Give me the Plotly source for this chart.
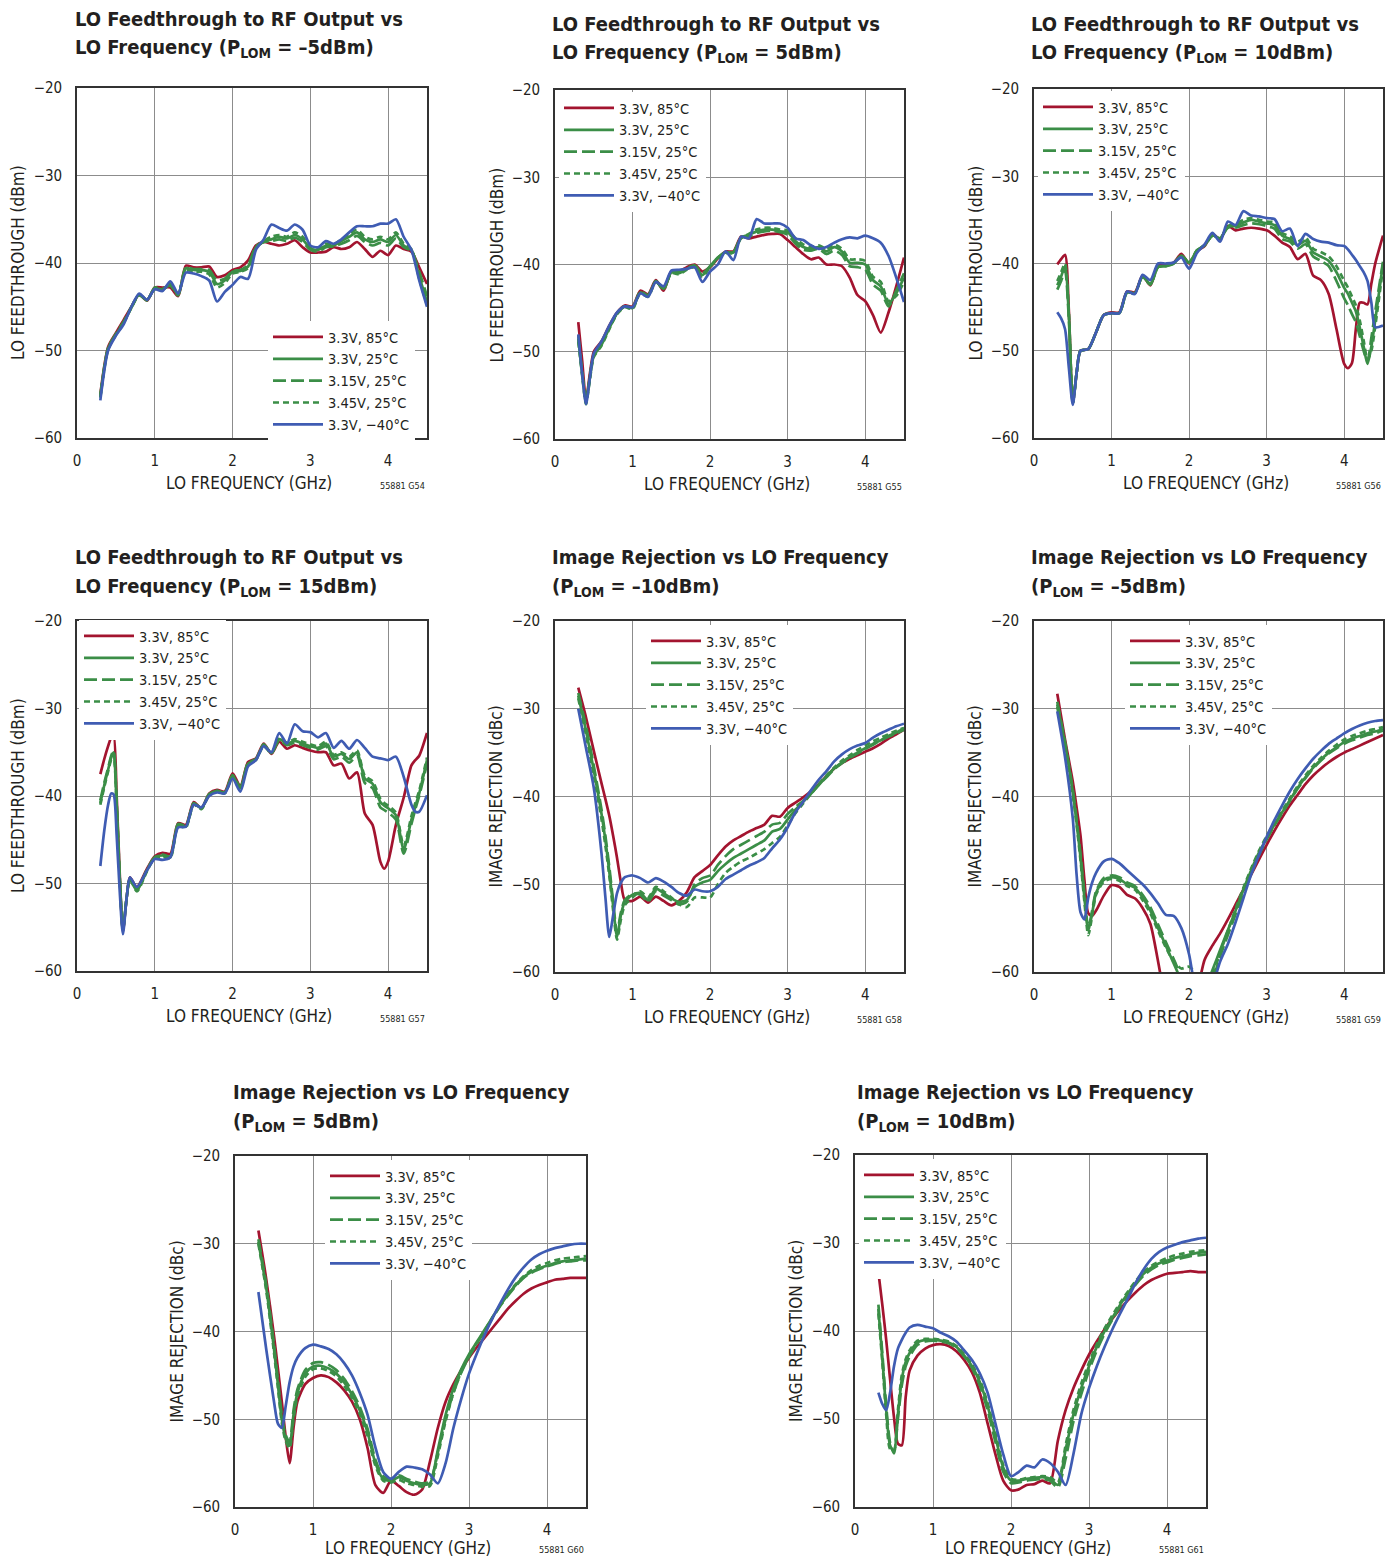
import plotly.graph_objects as go

W, H = 1397, 1560
FONT = "Liberation Sans Narrow, DejaVu Sans Condensed, Roboto Condensed, Arial Narrow, sans-serif"
TXT = "#231f20"

SERIES_NAMES = ["3.3V, 85°C", "3.3V, 25°C", "3.15V, 25°C", "3.45V, 25°C", "3.3V, −40°C"]
SERIES_COLORS = ["#a3142f", "#3b8e47", "#3b8e47", "#3b8e47", "#3f5cb3"]
SERIES_DASH = ["solid", "solid", "13px,5px", "6px,4px", "solid"]

X_TICKS = [0, 1, 2, 3, 4]
Y_TICKS = [-60, -50, -40, -30, -20]

# ---------------- G54: LO feedthrough, PLOM = -5dBm ----------------
G54_FREQ = [0.3,0.4,0.5,0.6,0.7,0.8,0.9,1.0,1.1,1.2,1.3,1.4,1.5,1.6,1.7,1.8,1.9,2.0,2.1,2.2,2.3,2.4,2.5,2.6,2.7,2.8,2.9,3.0,3.1,3.2,3.3,3.4,3.5,3.6,3.7,3.8,3.9,4.0,4.1,4.2,4.3,4.4,4.5]
G54_85C = [-55.0,-49.6,-48.0,-46.5,-45.0,-43.6,-44.3,-42.8,-42.8,-42.8,-43.8,-40.3,-40.5,-40.5,-40.4,-41.6,-41.4,-40.8,-40.5,-39.7,-38.0,-37.6,-37.8,-38.0,-37.8,-37.4,-38.2,-38.8,-38.8,-38.7,-38.2,-38.4,-38.2,-37.6,-38.4,-39.3,-38.6,-39.1,-38.0,-38.4,-38.7,-40.5,-42.4]
G54_25C = [-55.3,-49.8,-48.2,-46.8,-45.1,-43.6,-44.2,-42.9,-43.0,-42.5,-43.6,-40.6,-40.8,-40.8,-41.0,-42.4,-42.0,-41.0,-40.9,-40.4,-38.2,-37.6,-37.3,-37.0,-37.2,-36.8,-37.3,-38.3,-38.5,-38.0,-38.0,-37.5,-37.0,-36.5,-37.3,-37.6,-37.3,-37.6,-36.8,-38.0,-38.5,-41.5,-44.5]
G54_315V = [-55.2,-49.7,-48.1,-46.7,-45.0,-43.6,-44.3,-42.8,-42.9,-42.6,-43.7,-40.5,-40.7,-40.7,-40.8,-42.0,-41.8,-40.9,-40.8,-40.2,-38.1,-37.6,-37.5,-37.3,-37.5,-37.1,-37.6,-38.5,-38.7,-38.2,-38.1,-37.8,-37.4,-36.9,-37.6,-38.0,-37.7,-38.0,-37.2,-38.2,-38.6,-41.0,-43.8]
G54_345V = [-55.4,-49.9,-48.2,-46.9,-45.1,-43.7,-44.2,-43.0,-43.1,-42.4,-43.5,-40.8,-41.0,-41.0,-41.3,-42.8,-42.3,-41.2,-41.0,-40.6,-38.3,-37.5,-37.0,-36.8,-37.0,-36.5,-37.0,-38.1,-38.3,-37.8,-37.9,-37.3,-36.7,-36.2,-37.0,-37.3,-37.0,-37.3,-36.5,-37.8,-38.4,-41.8,-44.8]
G54_M40C = [-55.7,-50.0,-48.3,-47.0,-45.0,-43.5,-44.2,-43.0,-43.2,-42.1,-43.5,-41.1,-41.2,-41.5,-42.0,-44.4,-43.3,-42.5,-41.6,-41.8,-38.5,-37.3,-35.6,-36.0,-36.3,-35.6,-36.2,-38.0,-38.2,-37.5,-37.8,-37.3,-36.5,-35.8,-35.8,-35.8,-35.5,-35.5,-35.0,-37.0,-38.5,-42.0,-45.0]

# ---------------- G55: LO feedthrough, PLOM = 5dBm ----------------
G55_FREQ = [0.3,0.35,0.4,0.45,0.5,0.6,0.7,0.8,0.9,1.0,1.1,1.2,1.3,1.4,1.5,1.6,1.7,1.8,1.9,2.0,2.1,2.2,2.3,2.4,2.5,2.6,2.7,2.8,2.9,3.0,3.1,3.2,3.3,3.4,3.5,3.6,3.7,3.8,3.9,4.0,4.1,4.2,4.3,4.4,4.5]
G55_85C = [-46.6,-51.0,-55.5,-52.5,-50.0,-48.8,-47.0,-45.5,-44.7,-44.8,-43.0,-43.4,-41.8,-43.0,-40.8,-40.8,-40.3,-40.0,-40.8,-40.3,-39.3,-38.5,-38.5,-36.8,-37.0,-36.8,-36.6,-36.5,-36.5,-37.2,-38.0,-38.8,-39.4,-39.2,-40.0,-40.0,-40.2,-41.5,-43.5,-44.2,-45.8,-47.8,-45.5,-42.5,-39.2]
G55_25C = [-48.5,-52.5,-55.8,-53.0,-50.5,-49.2,-47.3,-45.6,-44.8,-45.0,-43.2,-43.6,-41.9,-42.8,-40.9,-41.0,-40.5,-40.2,-41.2,-40.2,-39.2,-38.6,-38.6,-36.9,-36.6,-36.2,-36.0,-36.0,-36.2,-36.3,-37.3,-38.0,-38.2,-38.0,-38.5,-38.0,-38.5,-39.8,-39.8,-40.0,-41.8,-42.5,-44.5,-43.3,-41.5]
G55_315V = [-48.2,-52.3,-55.6,-52.8,-50.4,-49.0,-47.2,-45.6,-44.8,-44.9,-43.1,-43.5,-41.9,-42.9,-40.9,-40.9,-40.4,-40.1,-41.0,-40.2,-39.2,-38.6,-38.6,-36.9,-36.8,-36.4,-36.2,-36.1,-36.3,-36.6,-37.6,-38.3,-38.4,-38.2,-38.8,-38.4,-38.9,-40.2,-40.3,-40.6,-42.3,-43.0,-44.8,-43.0,-41.0]
G55_345V = [-48.8,-52.7,-56.0,-53.2,-50.6,-49.3,-47.4,-45.7,-44.9,-45.1,-43.3,-43.7,-42.0,-42.7,-41.0,-41.1,-40.6,-40.3,-41.4,-40.3,-39.3,-38.7,-38.7,-37.0,-36.5,-36.0,-35.8,-35.8,-36.0,-36.1,-37.0,-37.7,-38.0,-37.8,-38.2,-37.7,-38.2,-39.4,-39.4,-39.6,-41.4,-42.0,-44.2,-43.6,-42.0]
G55_M40C = [-48.0,-52.5,-56.0,-53.0,-50.2,-48.8,-47.0,-45.5,-44.8,-44.9,-43.3,-43.7,-42.0,-42.5,-40.7,-40.6,-40.5,-40.3,-42.0,-40.8,-40.0,-38.5,-39.5,-36.8,-37.0,-34.8,-35.3,-35.3,-35.3,-35.8,-37.0,-37.2,-37.8,-38.2,-38.0,-37.5,-37.1,-36.9,-37.0,-36.7,-37.0,-37.5,-39.0,-41.5,-44.3]

# ---------------- G56: LO feedthrough, PLOM = 10dBm ----------------
G56_FREQ = [0.3,0.35,0.4,0.45,0.5,0.55,0.6,0.7,0.8,0.9,1.0,1.1,1.2,1.3,1.4,1.5,1.6,1.7,1.8,1.9,2.0,2.1,2.2,2.3,2.4,2.5,2.6,2.7,2.8,2.9,3.0,3.1,3.2,3.3,3.4,3.5,3.6,3.7,3.8,3.9,4.0,4.05,4.1,4.15,4.2,4.25,4.3,4.35,4.4,4.5]
G56_85C = [-40.1,-39.5,-39.0,-45.5,-56.0,-52.5,-50.0,-49.8,-47.9,-45.9,-45.6,-45.6,-43.2,-43.3,-41.4,-42.5,-40.2,-40.1,-39.9,-38.9,-40.0,-38.6,-38.0,-36.6,-37.2,-35.7,-36.2,-36.0,-35.9,-36.0,-36.2,-36.8,-37.6,-38.1,-39.5,-38.9,-41.4,-41.9,-43.5,-47.5,-51.5,-52.0,-51.4,-47.5,-44.5,-44.5,-44.7,-42.3,-40.0,-36.8]
G56_25C = [-42.5,-41.5,-40.3,-46.0,-56.0,-52.5,-50.0,-49.8,-47.9,-45.9,-45.7,-45.7,-43.3,-43.4,-41.5,-42.4,-40.4,-40.3,-40.0,-39.1,-39.9,-38.5,-37.9,-36.8,-37.1,-35.8,-35.7,-35.3,-35.0,-35.2,-35.4,-35.6,-36.8,-37.2,-37.9,-37.4,-38.7,-39.2,-39.7,-41.0,-42.8,-43.5,-44.5,-45.5,-47.3,-49.5,-51.5,-49.5,-46.5,-40.0]
G56_315V = [-43.0,-42.0,-40.8,-46.5,-56.0,-52.5,-50.0,-49.8,-47.9,-45.9,-45.7,-45.7,-43.3,-43.4,-41.5,-42.4,-40.4,-40.3,-40.0,-39.1,-39.9,-38.5,-37.9,-36.8,-37.1,-35.9,-35.9,-35.6,-35.4,-35.5,-35.7,-36.0,-37.2,-37.5,-38.3,-37.8,-39.2,-39.7,-40.3,-42.0,-44.0,-44.8,-45.8,-46.7,-48.3,-50.0,-51.2,-48.5,-45.5,-39.8]
G56_345V = [-42.0,-41.0,-40.0,-45.8,-56.0,-52.5,-50.0,-49.8,-47.9,-45.9,-45.7,-45.7,-43.3,-43.4,-41.5,-42.4,-40.4,-40.3,-40.0,-39.1,-39.9,-38.5,-37.9,-36.8,-37.1,-35.7,-35.5,-35.0,-34.8,-35.0,-35.2,-35.3,-36.5,-36.9,-37.5,-37.0,-38.3,-38.7,-39.2,-40.3,-42.0,-42.8,-43.8,-44.8,-46.5,-48.8,-51.0,-50.0,-47.2,-40.5]
G56_M40C = [-45.6,-46.3,-47.5,-52.0,-56.2,-52.5,-50.0,-49.8,-47.9,-45.9,-45.7,-45.7,-43.2,-43.5,-41.3,-41.9,-40.0,-40.0,-39.9,-39.3,-40.6,-38.8,-37.8,-36.5,-37.5,-35.2,-35.6,-34.0,-34.5,-34.6,-34.8,-34.9,-36.3,-36.0,-38.0,-36.6,-37.2,-37.5,-37.6,-37.9,-38.0,-38.4,-39.0,-39.6,-40.3,-41.0,-42.0,-44.5,-47.3,-47.1]

# ---------------- G57: LO feedthrough, PLOM = 15dBm ----------------
G57_FREQ = [0.3,0.35,0.4,0.44,0.47,0.51,0.55,0.59,0.64,0.68,0.77,0.9,1.0,1.1,1.2,1.3,1.4,1.5,1.6,1.7,1.8,1.9,2.0,2.1,2.2,2.3,2.4,2.5,2.6,2.7,2.8,2.9,3.0,3.1,3.2,3.3,3.4,3.5,3.6,3.7,3.8,3.9,3.95,4.0,4.1,4.2,4.3,4.35,4.4,4.5]
G57_85C = [-37.5,-35.8,-34.3,-33.3,-33.0,-40.0,-49.0,-55.5,-51.5,-49.3,-50.4,-48.3,-46.9,-46.5,-46.6,-43.1,-43.3,-40.7,-41.4,-39.7,-39.3,-39.5,-37.4,-38.9,-36.1,-35.7,-34.0,-35.2,-33.8,-34.6,-34.2,-34.5,-34.8,-35.0,-35.0,-36.5,-36.3,-38.0,-37.3,-42.0,-43.3,-47.5,-48.3,-47.5,-43.3,-40.2,-36.5,-35.9,-35.4,-32.8]
G57_25C = [-40.8,-38.8,-37.0,-35.6,-35.0,-41.0,-49.5,-55.3,-51.5,-49.5,-50.8,-48.5,-47.0,-46.8,-47.0,-43.3,-43.5,-40.9,-41.4,-39.8,-39.4,-39.6,-37.7,-39.1,-36.3,-35.8,-34.2,-35.1,-33.5,-34.0,-33.7,-34.0,-34.3,-34.5,-34.0,-35.5,-35.2,-35.8,-35.0,-38.0,-38.6,-40.7,-41.1,-41.4,-42.2,-46.1,-42.7,-41.2,-39.7,-35.9]
G57_315V = [-40.5,-38.5,-36.8,-35.4,-34.8,-40.8,-49.3,-55.4,-51.5,-49.5,-50.7,-48.4,-47.0,-46.7,-46.9,-43.2,-43.4,-40.8,-41.4,-39.8,-39.4,-39.6,-37.6,-39.0,-36.2,-35.8,-34.1,-35.1,-33.6,-34.2,-33.9,-34.2,-34.5,-34.7,-34.3,-35.8,-35.5,-36.2,-35.4,-38.5,-39.1,-41.3,-41.6,-41.9,-42.7,-46.6,-43.2,-41.5,-40.0,-36.3]
G57_345V = [-41.0,-39.0,-37.2,-35.8,-35.2,-41.2,-49.7,-55.2,-51.5,-49.5,-50.9,-48.6,-47.1,-46.9,-47.1,-43.4,-43.6,-41.0,-41.5,-39.9,-39.5,-39.7,-37.8,-39.2,-36.4,-35.9,-34.3,-35.1,-33.4,-33.9,-33.5,-33.8,-34.1,-34.3,-33.8,-35.3,-35.0,-35.5,-34.8,-37.7,-38.3,-40.3,-40.8,-41.1,-41.9,-45.7,-42.3,-40.8,-39.4,-35.6]
G57_M40C = [-48.0,-44.0,-41.0,-39.7,-39.8,-44.5,-51.0,-55.8,-51.5,-49.3,-50.4,-48.5,-47.2,-47.3,-47.0,-43.6,-43.5,-41.0,-41.3,-40.0,-39.6,-39.7,-38.0,-39.5,-36.6,-35.9,-34.3,-35.0,-32.8,-34.0,-31.8,-32.6,-32.7,-33.3,-32.8,-34.5,-33.7,-34.6,-33.6,-34.5,-35.5,-35.7,-35.8,-35.9,-35.5,-37.8,-41.0,-41.8,-41.8,-39.9]

# ---------------- G58: image rejection, PLOM = -10dBm ----------------
G58_FREQ = [0.3,0.4,0.5,0.6,0.65,0.7,0.75,0.8,0.85,0.9,1.0,1.1,1.2,1.3,1.4,1.5,1.6,1.7,1.8,1.9,2.0,2.1,2.2,2.3,2.4,2.5,2.6,2.7,2.8,2.9,3.0,3.1,3.2,3.3,3.4,3.5,3.6,3.7,3.8,3.9,4.0,4.1,4.2,4.3,4.4,4.5]
G58_85C = [-27.6,-31.0,-34.8,-38.5,-40.3,-42.2,-44.5,-47.0,-49.8,-51.8,-51.9,-51.4,-52.1,-51.4,-51.9,-52.4,-51.9,-50.9,-49.2,-48.5,-47.8,-46.7,-45.7,-45.0,-44.5,-44.0,-43.6,-43.2,-42.2,-42.3,-41.3,-40.7,-40.1,-39.4,-38.6,-37.7,-36.8,-36.2,-35.7,-35.3,-34.9,-34.5,-34.0,-33.4,-32.9,-32.4]
G58_25C = [-28.5,-32.5,-37.0,-42.0,-45.0,-48.5,-52.5,-56.0,-53.5,-52.0,-51.2,-51.0,-51.8,-50.5,-51.0,-51.6,-52.0,-51.8,-50.3,-49.8,-49.5,-48.5,-47.7,-47.0,-46.5,-46.0,-45.5,-45.0,-44.0,-43.7,-42.6,-41.5,-40.6,-39.7,-38.7,-37.7,-36.8,-36.1,-35.5,-35.0,-34.5,-34.0,-33.6,-33.1,-32.7,-32.2]
G58_315V = [-28.2,-32.0,-36.5,-41.5,-44.5,-48.0,-52.0,-55.5,-53.2,-51.8,-51.1,-51.2,-52.0,-50.8,-51.3,-51.8,-52.3,-52.0,-50.0,-49.3,-49.0,-47.8,-46.8,-46.0,-45.5,-45.0,-44.5,-44.0,-43.2,-43.0,-42.0,-41.2,-40.5,-39.6,-38.7,-37.8,-36.9,-36.2,-35.6,-35.1,-34.6,-34.1,-33.6,-33.2,-32.8,-32.4]
G58_345V = [-28.8,-33.0,-37.6,-42.6,-45.6,-49.0,-53.0,-56.3,-54.0,-52.4,-51.5,-50.8,-51.5,-50.3,-50.8,-51.5,-52.3,-52.6,-51.5,-51.5,-51.5,-50.0,-48.7,-48.0,-47.4,-47.0,-46.5,-46.0,-45.3,-44.6,-43.3,-41.9,-40.8,-39.7,-38.6,-37.6,-36.7,-35.9,-35.3,-34.7,-34.2,-33.7,-33.3,-32.9,-32.5,-32.2]
G58_M40C = [-30.0,-34.5,-39.0,-46.5,-51.5,-56.0,-53.5,-51.0,-49.8,-49.2,-49.0,-49.3,-49.8,-49.3,-49.7,-50.3,-51.0,-51.3,-50.6,-50.8,-50.8,-50.3,-49.4,-48.9,-48.4,-47.9,-47.5,-47.0,-45.9,-44.9,-43.5,-41.8,-40.6,-39.3,-38.1,-37.1,-36.0,-35.2,-34.6,-34.2,-33.9,-33.3,-32.8,-32.4,-32.0,-31.7]

# ---------------- G59: image rejection, PLOM = -5dBm ----------------
G59_FREQ = [0.3,0.4,0.5,0.55,0.6,0.65,0.7,0.75,0.8,0.9,1.0,1.1,1.2,1.3,1.4,1.5,1.6,1.7,1.8,1.9,2.0,2.1,2.2,2.3,2.4,2.5,2.6,2.7,2.8,2.9,3.0,3.1,3.2,3.3,3.4,3.5,3.6,3.7,3.8,3.9,4.0,4.1,4.2,4.3,4.4,4.5]
G59_85C = [-28.3,-33.5,-38.3,-41.3,-44.5,-49.5,-53.3,-53.6,-53.0,-51.3,-50.1,-50.3,-51.2,-51.6,-52.7,-54.5,-58.8,-63.5,-66.0,-67.0,-66.0,-62.5,-58.6,-57.0,-55.6,-54.0,-52.3,-50.6,-48.9,-47.2,-45.5,-43.9,-42.4,-41.0,-39.8,-38.6,-37.6,-36.8,-36.1,-35.5,-35.0,-34.6,-34.2,-33.8,-33.4,-33.0]
G59_25C = [-29.5,-34.0,-39.5,-43.0,-47.0,-51.5,-55.3,-53.3,-51.0,-49.5,-49.2,-49.4,-50.0,-50.4,-51.5,-53.0,-55.0,-57.0,-59.0,-61.0,-63.0,-63.0,-62.0,-59.8,-57.5,-55.2,-53.0,-50.6,-48.4,-46.4,-44.8,-43.2,-41.8,-40.4,-39.0,-37.8,-36.7,-35.8,-35.0,-34.4,-33.8,-33.4,-33.1,-32.8,-32.6,-32.3]
G59_315V = [-29.2,-33.8,-39.2,-42.6,-46.6,-51.0,-55.0,-53.0,-50.8,-49.3,-49.0,-49.2,-49.8,-50.2,-51.2,-52.6,-54.6,-56.6,-58.5,-60.5,-62.0,-62.5,-61.5,-60.8,-58.2,-55.8,-53.4,-51.0,-48.8,-46.7,-44.9,-43.3,-41.9,-40.5,-39.1,-37.9,-36.8,-35.9,-35.1,-34.5,-34.0,-33.6,-33.3,-33.0,-32.8,-32.5]
G59_345V = [-29.8,-34.3,-39.8,-43.3,-47.3,-52.0,-55.8,-53.6,-51.2,-49.7,-49.4,-49.6,-50.2,-50.6,-51.8,-53.3,-55.3,-57.2,-58.8,-59.6,-59.4,-60.3,-61.5,-60.3,-57.8,-55.3,-52.8,-50.4,-48.2,-46.2,-44.5,-43.0,-41.6,-40.2,-38.8,-37.6,-36.5,-35.6,-34.8,-34.1,-33.5,-33.1,-32.8,-32.5,-32.3,-32.1]
G59_M40C = [-30.3,-35.5,-42.5,-49.0,-53.2,-54.0,-51.5,-49.8,-48.7,-47.4,-47.1,-47.6,-48.4,-49.2,-50.0,-51.0,-52.2,-53.5,-53.6,-55.0,-58.0,-63.0,-65.0,-61.8,-58.8,-56.8,-54.3,-51.6,-48.9,-46.7,-44.6,-42.7,-41.0,-39.4,-38.0,-36.8,-35.7,-34.8,-34.0,-33.4,-32.8,-32.3,-31.9,-31.6,-31.4,-31.3]

# ---------------- G60: image rejection, PLOM = 5dBm ----------------
G60_FREQ = [0.3,0.4,0.5,0.55,0.6,0.65,0.7,0.75,0.8,0.9,1.0,1.1,1.2,1.3,1.4,1.5,1.6,1.7,1.8,1.9,2.0,2.1,2.2,2.3,2.4,2.5,2.6,2.7,2.8,2.9,3.0,3.1,3.2,3.3,3.4,3.5,3.6,3.7,3.8,3.9,4.0,4.1,4.2,4.3,4.4,4.5]
G60_85C = [-28.5,-34.0,-40.5,-44.2,-48.0,-52.0,-55.0,-51.0,-48.0,-46.0,-45.3,-45.0,-45.2,-45.8,-46.7,-48.0,-50.0,-53.3,-57.5,-58.4,-57.0,-57.6,-58.3,-58.6,-58.0,-54.8,-51.0,-48.0,-46.0,-44.4,-43.0,-41.8,-40.7,-39.6,-38.5,-37.4,-36.5,-35.7,-35.1,-34.7,-34.4,-34.1,-34.0,-33.9,-33.9,-33.9]
G60_25C = [-29.8,-35.0,-42.0,-46.0,-50.0,-52.2,-53.0,-49.5,-47.0,-44.8,-44.0,-43.9,-44.2,-44.8,-45.8,-47.2,-49.0,-51.5,-55.0,-56.8,-57.0,-56.6,-57.0,-57.3,-57.5,-57.3,-53.5,-49.5,-46.5,-44.3,-42.6,-41.2,-39.8,-38.4,-37.0,-35.8,-34.7,-33.8,-33.2,-32.8,-32.5,-32.2,-32.0,-31.9,-31.8,-31.7]
G60_315V = [-29.5,-34.6,-41.5,-45.5,-49.5,-51.8,-52.6,-49.0,-46.6,-44.4,-43.6,-43.5,-43.8,-44.4,-45.4,-46.8,-48.6,-51.1,-54.6,-56.5,-56.8,-56.4,-56.8,-57.1,-57.3,-57.1,-53.8,-50.0,-47.0,-44.7,-42.9,-41.4,-40.0,-38.5,-37.1,-35.9,-34.8,-33.9,-33.3,-32.9,-32.6,-32.3,-32.1,-32.0,-31.9,-31.9]
G60_345V = [-30.0,-35.3,-42.4,-46.4,-50.4,-52.5,-53.3,-50.0,-47.4,-45.2,-44.3,-44.2,-44.5,-45.1,-46.2,-47.6,-49.4,-51.9,-55.3,-57.0,-57.2,-56.9,-57.3,-57.5,-57.7,-57.6,-54.2,-50.2,-47.0,-44.6,-42.8,-41.3,-39.9,-38.4,-37.0,-35.7,-34.6,-33.7,-33.0,-32.5,-32.2,-31.9,-31.7,-31.6,-31.5,-31.4]
G60_M40C = [-35.5,-42.0,-48.0,-50.5,-51.0,-48.5,-45.8,-44.0,-43.0,-41.9,-41.5,-41.7,-42.0,-42.6,-43.6,-45.0,-47.0,-49.5,-53.2,-56.0,-56.8,-56.0,-55.4,-55.5,-55.7,-56.3,-57.3,-55.0,-51.0,-47.7,-44.8,-42.5,-40.4,-38.5,-36.8,-35.2,-33.8,-32.7,-31.8,-31.2,-30.8,-30.5,-30.3,-30.1,-30.0,-30.0]

# ---------------- G61: image rejection, PLOM = 10dBm ----------------
G61_FREQ = [0.3,0.35,0.4,0.45,0.5,0.55,0.6,0.65,0.7,0.8,0.9,1.0,1.1,1.2,1.3,1.4,1.5,1.6,1.7,1.8,1.9,2.0,2.1,2.2,2.3,2.4,2.5,2.6,2.7,2.8,2.9,3.0,3.1,3.2,3.3,3.4,3.5,3.6,3.7,3.8,3.9,4.0,4.1,4.2,4.3,4.4,4.5]
G61_85C = [-33.3,-37.0,-41.0,-45.5,-49.8,-52.8,-53.0,-47.5,-44.5,-42.8,-42.0,-41.6,-41.5,-41.7,-42.3,-43.3,-44.7,-47.0,-50.5,-54.0,-57.0,-58.1,-58.0,-57.5,-57.4,-57.0,-57.3,-52.5,-49.0,-46.5,-44.5,-42.7,-41.2,-39.8,-38.6,-37.5,-36.5,-35.6,-34.8,-34.2,-33.8,-33.5,-33.4,-33.3,-33.2,-33.3,-33.3]
G61_25C = [-37.5,-43.0,-49.0,-53.0,-53.7,-49.5,-45.5,-43.5,-42.5,-41.3,-41.0,-41.0,-41.1,-41.3,-41.8,-42.8,-44.0,-45.8,-48.5,-52.0,-55.5,-57.0,-57.0,-56.8,-56.7,-56.6,-56.8,-57.5,-53.5,-49.5,-46.5,-44.0,-41.8,-40.0,-38.5,-37.0,-35.7,-34.5,-33.5,-32.8,-32.3,-32.0,-31.7,-31.5,-31.3,-31.1,-31.0]
G61_315V = [-37.0,-42.5,-48.5,-52.7,-53.9,-50.0,-46.2,-44.0,-42.9,-41.6,-41.2,-41.1,-41.2,-41.4,-41.9,-42.9,-44.2,-46.2,-49.0,-52.6,-56.0,-57.3,-57.2,-57.0,-56.9,-56.8,-57.0,-57.8,-54.5,-50.3,-47.2,-44.5,-42.2,-40.3,-38.7,-37.2,-35.9,-34.7,-33.7,-33.0,-32.5,-32.2,-31.9,-31.7,-31.5,-31.4,-31.3]
G61_345V = [-38.0,-43.5,-49.5,-53.4,-53.5,-49.0,-45.0,-43.2,-42.2,-41.1,-40.9,-40.9,-41.0,-41.2,-41.7,-42.6,-43.8,-45.5,-48.2,-51.6,-55.2,-56.8,-56.9,-56.7,-56.6,-56.5,-56.6,-57.2,-53.0,-49.0,-46.0,-43.6,-41.5,-39.7,-38.2,-36.8,-35.5,-34.3,-33.3,-32.6,-32.1,-31.7,-31.4,-31.2,-31.0,-30.9,-30.8]
G61_M40C = [-47.0,-48.3,-49.0,-47.0,-44.0,-42.0,-41.0,-40.2,-39.6,-39.3,-39.5,-39.7,-40.2,-40.6,-41.2,-42.2,-43.3,-44.8,-47.0,-50.5,-54.0,-56.5,-56.0,-55.3,-55.5,-54.6,-55.0,-56.0,-57.5,-54.0,-49.5,-46.5,-44.0,-41.8,-39.8,-38.0,-36.3,-34.5,-33.0,-31.8,-31.0,-30.5,-30.2,-29.9,-29.7,-29.5,-29.4]

FT = "LO Feedthrough to RF Output vs"
IR = "Image Rejection vs LO Frequency"
CHARTS = [
    dict(code="55881 G54", t1=FT, t2="LO Frequency (P<sub>LOM</sub> = –5dBm)", ytitle="LO FEEDTHROUGH (dBm)",
         freq=G54_FREQ, ys=[G54_85C, G54_25C, G54_315V, G54_345V, G54_M40C],
         box=(77, 88, 427, 438), tx=73, ty=(19, 48), leg=(268, 321)),
    dict(code="55881 G55", t1=FT, t2="LO Frequency (P<sub>LOM</sub> = 5dBm)", ytitle="LO FEEDTHROUGH (dBm)",
         freq=G55_FREQ, ys=[G55_85C, G55_25C, G55_315V, G55_345V, G55_M40C],
         box=(555, 90, 904, 439), tx=550, ty=(24, 53), leg=(559, 92)),
    dict(code="55881 G56", t1=FT, t2="LO Frequency (P<sub>LOM</sub> = 10dBm)", ytitle="LO FEEDTHROUGH (dBm)",
         freq=G56_FREQ, ys=[G56_85C, G56_25C, G56_315V, G56_345V, G56_M40C],
         box=(1034, 89, 1383, 438), tx=1029, ty=(24, 53), leg=(1038, 91)),
    dict(code="55881 G57", t1=FT, t2="LO Frequency (P<sub>LOM</sub> = 15dBm)", ytitle="LO FEEDTHROUGH (dBm)",
         freq=G57_FREQ, ys=[G57_85C, G57_25C, G57_315V, G57_345V, G57_M40C],
         box=(77, 621, 427, 971), tx=73, ty=(557, 587), leg=(79, 620)),
    dict(code="55881 G58", t1=IR, t2="(P<sub>LOM</sub> = –10dBm)", ytitle="IMAGE REJECTION (dBc)",
         freq=G58_FREQ, ys=[G58_85C, G58_25C, G58_315V, G58_345V, G58_M40C],
         box=(555, 621, 904, 972), tx=550, ty=(557, 587), leg=(646, 625)),
    dict(code="55881 G59", t1=IR, t2="(P<sub>LOM</sub> = –5dBm)", ytitle="IMAGE REJECTION (dBc)",
         freq=G59_FREQ, ys=[G59_85C, G59_25C, G59_315V, G59_345V, G59_M40C],
         box=(1034, 621, 1383, 972), tx=1029, ty=(557, 587), leg=(1125, 625)),
    dict(code="55881 G60", t1=IR, t2="(P<sub>LOM</sub> = 5dBm)", ytitle="IMAGE REJECTION (dBc)",
         freq=G60_FREQ, ys=[G60_85C, G60_25C, G60_315V, G60_345V, G60_M40C],
         box=(235, 1156, 586, 1507), tx=231, ty=(1092, 1122), leg=(325, 1160)),
    dict(code="55881 G61", t1=IR, t2="(P<sub>LOM</sub> = 10dBm)", ytitle="IMAGE REJECTION (dBc)",
         freq=G61_FREQ, ys=[G61_85C, G61_25C, G61_315V, G61_345V, G61_M40C],
         box=(855, 1155, 1206, 1507), tx=855, ty=(1092, 1122), leg=(859, 1159)),
]


def px(x):
    return x / W


def py(y):
    return 1 - y / H


fig = go.Figure()
layout = dict(width=W, height=H, margin=dict(l=0, r=0, t=0, b=0), paper_bgcolor="white",
              plot_bgcolor="white", template="none", showlegend=True,
              font=dict(family=FONT, color=TXT))
annotations = []

for i, c in enumerate(CHARTS, start=1):
    sfx = "" if i == 1 else str(i)
    legname = "legend" + sfx
    for k in range(5):
        assert len(c["ys"][k]) == len(c["freq"]), (c["code"], k, len(c["ys"][k]), len(c["freq"]))
        fig.add_trace(go.Scatter(
            x=c["freq"], y=c["ys"][k], mode="lines", name=SERIES_NAMES[k],
            line=dict(color=SERIES_COLORS[k], width=2.7, dash=SERIES_DASH[k], shape="spline", smoothing=0.7),
            xaxis="x" + sfx, yaxis="y" + sfx, legend=legname, showlegend=True, hoverinfo="skip"))
    x0, y0, x1, y1 = c["box"]
    axcommon = dict(showline=True, mirror=True, linecolor="#333333", linewidth=1.6,
                    showgrid=True, gridcolor="#8c8c8c", gridwidth=1, zeroline=False, ticks="",
                    tickfont=dict(family=FONT, size=15, color=TXT), fixedrange=True)
    layout["xaxis" + sfx] = dict(axcommon, domain=[px(x0), px(x1)], anchor="y" + sfx,
                                 range=[0, 4.5], tickvals=X_TICKS, ticklabelstandoff=8)
    layout["yaxis" + sfx] = dict(axcommon, domain=[py(y1), py(y0)], anchor="x" + sfx,
                                 range=[-60, -20], tickvals=Y_TICKS, ticklabelstandoff=10)
    lx, ly = c["leg"]
    layout[legname] = dict(x=px(lx), y=py(ly), xanchor="left", yanchor="top", bgcolor="white",
                           borderwidth=0, font=dict(family=FONT, size=14.5, color=TXT),
                           itemwidth=50, tracegroupgap=0, itemclick=False, itemdoubleclick=False)
    for txt, yy in ((c["t1"], c["ty"][0]), (c["t2"], c["ty"][1])):
        annotations.append(dict(text=txt, x=px(c["tx"]), y=py(yy), xref="paper", yref="paper",
                                xanchor="left", yanchor="middle", showarrow=False,
                                font=dict(family=FONT, size=20, color=TXT, weight="bold")))
    xt_y = min(y1 + 45, H - 12)
    annotations.append(dict(text="LO FREQUENCY (GHz)", x=px((x0 + x1) / 2 - 3), y=py(xt_y),
                            xref="paper", yref="paper", xanchor="center", yanchor="middle",
                            showarrow=False, font=dict(family=FONT, size=17, color=TXT)))
    annotations.append(dict(text=c["ytitle"], x=px(x0 - 59), y=py((y0 + y1) / 2),
                            xref="paper", yref="paper", xanchor="center", yanchor="middle", textangle=-90,
                            showarrow=False, font=dict(family=FONT, size=17, color=TXT)))
    annotations.append(dict(text=c["code"], x=px(x1), y=py(min(y1 + 48, H - 10)), xref="paper", yref="paper",
                            xanchor="right", yanchor="middle", showarrow=False,
                            font=dict(family=FONT, size=9, color=TXT)))

layout["annotations"] = annotations
fig.update_layout(**layout)
# remove the default 8px page margin so the figure fills the 1397x1560 window exactly
fig.write_html("out.html", config={"displayModeBar": False},
               post_script="document.body.style.margin='0px';")
